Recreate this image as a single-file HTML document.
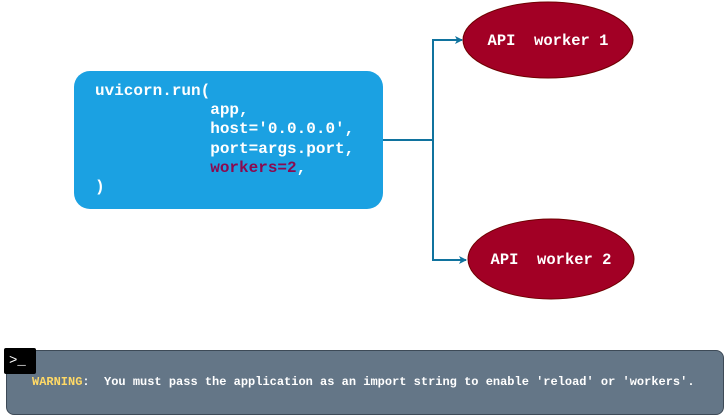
<!DOCTYPE html>
<html><head><style>
body{margin:0;width:724px;height:416px;background:#fff;overflow:hidden;position:relative;font-family:"Liberation Mono",monospace}
.box{position:absolute;left:74px;top:71px;width:309px;height:138px;background:#1ba1e2;border-radius:16px}
.code{position:absolute;left:95px;top:82px;color:#fff;font-weight:bold;font-size:16px;line-height:19.2px;white-space:pre;margin:0;font-family:"Liberation Mono",monospace}
.w{color:#8b0a50}
.warn{position:absolute;left:6px;top:350px;width:716px;height:63px;background:#647687;border:1px solid #3d4a57;border-radius:8px}
.wt{position:absolute;left:32px;top:375px;color:#fff;font-size:12px;font-weight:bold;white-space:pre}
.icon{position:absolute;left:4px;top:348px;width:32px;height:26px;background:#000;border-radius:2px;color:#fff;font-size:14px;line-height:26px;padding-left:5px;box-sizing:border-box}
</style></head><body>
<svg width="724" height="416" style="position:absolute;left:0;top:0">
<defs><marker id="a" markerWidth="8" markerHeight="8" refX="7" refY="4" orient="auto" markerUnits="userSpaceOnUse"><path d="M0,0 L8,4 L0,8 L2,4z" fill="#10739e"/></marker></defs>
<path d="M383,140 H433 V40 H462" fill="none" stroke="#10739e" stroke-width="2" marker-end="url(#a)"/>
<path d="M433,140 V260 H466" fill="none" stroke="#10739e" stroke-width="2" marker-end="url(#a)"/>
<ellipse cx="548" cy="40" rx="85" ry="38" fill="#a20025" stroke="#6f0000"/>
<ellipse cx="551" cy="259" rx="83" ry="40" fill="#a20025" stroke="#6f0000"/>
<text x="548" y="45" text-anchor="middle" fill="#fff" font-family="Liberation Mono" font-weight="bold" font-size="15.5" xml:space="preserve">API  worker 1</text>
<text x="551" y="264" text-anchor="middle" fill="#fff" font-family="Liberation Mono" font-weight="bold" font-size="15.5" xml:space="preserve">API  worker 2</text>
</svg>
<div class="box"></div>
<pre class="code">uvicorn.run(
            app,
            host='0.0.0.0',
            port=args.port,
            <span class="w">workers=2</span>,
)</pre>
<div class="warn"></div>
<div class="icon">&gt;_</div>
<div class="wt"><span style="color:#ffd966">WARNING</span>:  You must pass the application as an import string to enable 'reload' or 'workers'.</div>
</body></html>
